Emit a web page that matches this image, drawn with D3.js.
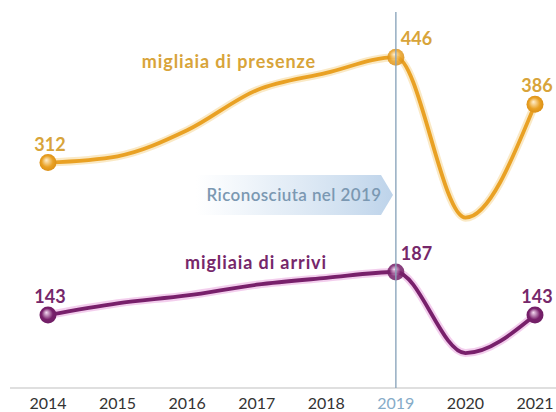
<!DOCTYPE html>
<html>
<head>
<meta charset="utf-8">
<script src="https://cdn.jsdelivr.net/npm/d3@7"></script>
<style>
  body { margin: 0; background: #fff; }
  svg { display: block; }
</style>
</head>
<body>
<div id="chart"></div>
<script>
// data (thousands)
const years = ["2014", "2015", "2016", "2017", "2018", "2019", "2020", "2021"];
const presenze = [312, 320, 353, 404, 426, 446, 242, 386];
const arrivi = [143, 155, 163, 174, 181, 187, 104, 143];
const labelled = ["2014", "2019", "2021"];
const highlightYear = "2019";
const presenzeName = "migliaia di presenze";
const arriviName = "migliaia di arrivi";
const bannerText = "Riconosciuta nel 2019";

const width = 556, height = 412;
const font = "Lato, 'Open Sans', sans-serif";

const svg = d3.select("#chart").append("svg")
    .attr("width", width)
    .attr("height", height);

const defs = svg.append("defs");

const x = d3.scalePoint()
    .domain(years)
    .range([48, 535]);

// two separate value scales, one per series
const yP = d3.scaleLinear().domain([300, 450]).range([172, 54]);
const yA = d3.scaleLinear().domain([143, 187]).range([315, 272]);

const series = [
    { key: "p", values: presenze, y: yP, color: "#e9a124", glow: "#f9e3b6", text: "#d8a43a",
      light: "#fff0d2", dark: "#d88c14", name: presenzeName, nameX: 229, nameY: 68 },
    { key: "a", values: arrivi, y: yA, color: "#78206b", glow: "#f0c2e8", text: "#76276a",
      light: "#f6dcf3", dark: "#6e1e63", name: arriviName, nameX: 256, nameY: 269 }
];

// sphere gradients for dots
series.forEach(s => {
    const g = defs.append("radialGradient")
        .attr("id", "dot-" + s.key)
        .attr("cx", "50%").attr("cy", "50%").attr("r", "55%")
        .attr("fx", "40%").attr("fy", "35%");
    g.append("stop").attr("offset", "0%").attr("stop-color", s.light);
    g.append("stop").attr("offset", "60%").attr("stop-color", s.color);
    g.append("stop").attr("offset", "100%").attr("stop-color", s.dark);
});

// banner gradient
const bg = defs.append("linearGradient").attr("id", "banner")
    .attr("x1", "0%").attr("x2", "100%").attr("y1", "0%").attr("y2", "0%");
bg.append("stop").attr("offset", "0%").attr("stop-color", "#dbe8f5").attr("stop-opacity", 0);
bg.append("stop").attr("offset", "40%").attr("stop-color", "#d6e4f2").attr("stop-opacity", 0.6);
bg.append("stop").attr("offset", "100%").attr("stop-color", "#bdd3ea").attr("stop-opacity", 1);

// axis line and year labels
const axisY = 388;
svg.append("line")
    .attr("x1", 10).attr("x2", width)
    .attr("y1", axisY).attr("y2", axisY)
    .attr("stroke", "#d4d4d4").attr("stroke-width", 1.5);

svg.append("g")
    .selectAll("text")
    .data(years)
    .join("text")
    .attr("x", d => x(d))
    .attr("y", 409)
    .attr("text-anchor", "middle")
    .style("font-family", font)
    .style("font-size", "16px")
    .style("fill", d => d === highlightYear ? "#86abc8" : "#333")
    .text(d => d);

// banner arrow
const bx0 = 196, bx1 = 381, btip = 393, by0 = 175, by1 = 215;
svg.append("path")
    .attr("d", `M${bx0},${by0} L${bx1},${by0} L${btip},${(by0 + by1) / 2} L${bx1},${by1} L${bx0},${by1} Z`)
    .attr("fill", "url(#banner)");
svg.append("text")
    .attr("x", 294).attr("y", 201)
    .attr("text-anchor", "middle")
    .style("font-family", font)
    .style("font-size", "17px")
    .style("font-weight", 600)
    .style("letter-spacing", "0.4px")
    .style("fill", "#7b98b2")
    .text(bannerText);

// lines
series.forEach(s => {
    const line = d3.line()
        .x((d, i) => x(years[i]))
        .y(d => s.y(d))
        .curve(d3.curveMonotoneX);

    svg.append("path")
        .datum(s.values)
        .attr("d", line)
        .attr("fill", "none")
        .attr("stroke", s.glow)
        .attr("stroke-width", 8)
        .attr("stroke-opacity", 0.8);

    svg.append("path")
        .datum(s.values)
        .attr("d", line)
        .attr("fill", "none")
        .attr("stroke", s.color)
        .attr("stroke-width", 3.8)
        .attr("stroke-linecap", "round");

    const pts = s.values.map((v, i) => ({ year: years[i], v })).filter(d => labelled.includes(d.year));

    svg.append("g")
        .selectAll("circle")
        .data(pts)
        .join("circle")
        .attr("cx", d => x(d.year))
        .attr("cy", d => s.y(d.v))
        .attr("r", 8.5)
        .attr("fill", `url(#dot-${s.key})`)
        .attr("opacity", d => d.year === highlightYear ? 0.85 : 1);

    svg.append("g")
        .selectAll("text")
        .data(pts)
        .join("text")
        .attr("x", d => d.year === highlightYear ? x(d.year) + 5 : x(d.year) + 2)
        .attr("y", d => s.y(d.v) - 12)
        .attr("text-anchor", d => d.year === highlightYear ? "start" : "middle")
        .style("font-family", font)
        .style("font-size", "18px")
        .style("font-weight", 700)
        .style("fill", s.text)
        .text(d => d.v);

    svg.append("text")
        .attr("x", s.nameX).attr("y", s.nameY)
        .attr("text-anchor", "middle")
        .style("font-family", font)
        .style("font-size", "18px")
        .style("font-weight", 700)
        .style("letter-spacing", "0.9px")
        .style("fill", s.text)
        .text(s.name);
});

// 2019 marker line on top
svg.append("line")
    .attr("x1", x(highlightYear)).attr("x2", x(highlightYear))
    .attr("y1", 12).attr("y2", axisY)
    .attr("stroke", "#88a3ba")
    .attr("stroke-width", 1.5)
    .attr("stroke-opacity", 0.9);
</script>
</body>
</html>
